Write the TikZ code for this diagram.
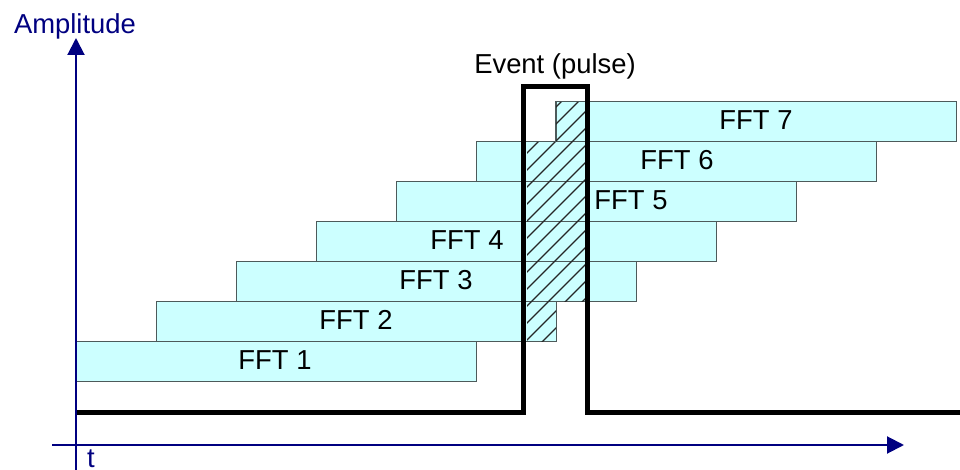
\documentclass[tikz,border=0pt]{standalone}
\usepackage{fontspec}
\setmainfont{Liberation Sans}
\usepackage{tikz}
\usetikzlibrary{arrows.meta}
\definecolor{axisblue}{HTML}{000080}
\definecolor{fftcyan}{HTML}{CCFFFF}
\definecolor{fftedge}{HTML}{4D5A5A}

\begin{document}
\begin{tikzpicture}[x=0.5pt, y=-0.5pt,
  axis/.style={draw=axisblue, line width=1pt, -{Triangle[length=8.5pt,width=8.5pt]}},
  fftbar/.style={draw=fftedge, line width=0.5pt, fill=fftcyan, inner sep=0pt,
    minimum width=200pt, minimum height=20pt},
  fftlabel/.style={anchor=base, font=\fontsize{13.7}{15}\selectfont},
  hatchline/.style={line width=0.7pt, black!85},
  pulseline/.style={line width=2.5pt, line join=miter}]

  \useasboundingbox (0,0) rectangle (960,470);

  \newcommand\barW{400}
  \newcommand\barH{40}

  %% bars, one per window
  \foreach \k in {1,...,7}{
    \node[fftbar] (fft\k) at ({76 + (\k-1)*80 + \barW/2}, {382 - (\k-1)*\barH - \barH/2}) {};
  }

  %% hatched overlap with the pulse
  \begin{scope}
    \clip (527,142) rectangle (585,302)
          (527,302) rectangle (556,342)
          (556,102) rectangle (585,142);
    \foreach \i in {150,167,...,650}
      \draw[hatchline] (\i,360) -- ++(270,-270);
  \end{scope}
  \draw[fftedge, line width=0.5pt] (fft7.north west) -- (fft7.south west);

  %% labels
  \node[fftlabel] (lab1) at (275,370) {FFT 1};
  \node[fftlabel] (lab2) at (356,330) {FFT 2};
  \node[fftlabel] (lab3) at (436,290) {FFT 3};
  \node[fftlabel] (lab4) at (467,250) {FFT 4};
  \node[fftlabel] (lab5) at (631,210) {FFT 5};
  \node[fftlabel] (lab6) at (677,170) {FFT 6};
  \node[fftlabel] (lab7) at (756,130) {FFT 7};

  %% pulse
  \coordinate (p0) at (76,413);
  \coordinate (p1) at (523,413);
  \coordinate (p2) at (523,87);
  \coordinate (p3) at (587,87);
  \coordinate (p4) at (587,413);
  \coordinate (p5) at (960,413);
  \draw[pulseline] (p0) -- (p1) -- (p2) -- (p3) -- (p4) -- (p5);
  \node[fftlabel] (event) at (555,74) {Event (pulse)};

  %% axes
  \coordinate (xstart) at (52,445);
  \coordinate (xend) at (904,445);
  \coordinate (ystart) at (76,470);
  \coordinate (yend) at (76,38);
  \draw[axis] (xstart) -- (xend); %% t
  \draw[axis] (ystart) -- (yend); %% amplitude
  \node[fftlabel, text=axisblue] (amp) at (75,34) {Amplitude};
  \node[fftlabel, text=axisblue] (tlab) at (91,468) {t};

\end{tikzpicture}
\end{document}
